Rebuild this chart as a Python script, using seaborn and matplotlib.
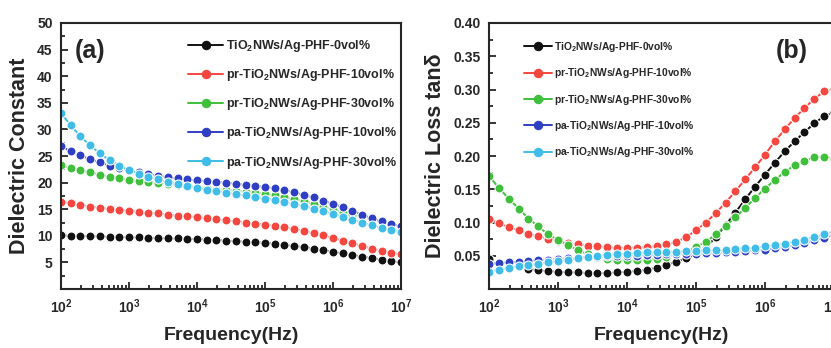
import numpy as np
import pandas as pd
import matplotlib
matplotlib.use("Agg")
import matplotlib.pyplot as plt
from matplotlib.lines import Line2D
from matplotlib.ticker import LogLocator, NullFormatter, MultipleLocator
import seaborn as sns

# frequency grid, 7 points per decade, 10^2 .. 10^7 Hz
freq = np.logspace(2, 7, 36)

labels = [
    r"TiO$_\mathbf{2}$NWs/Ag-PHF-0vol%",
    r"pr-TiO$_\mathbf{2}$NWs/Ag-PHF-10vol%",
    r"pr-TiO$_\mathbf{2}$NWs/Ag-PHF-30vol%",
    r"pa-TiO$_\mathbf{2}$NWs/Ag-PHF-10vol%",
    r"pa-TiO$_\mathbf{2}$NWs/Ag-PHF-30vol%",
]
colors = ["#111111", "#f5473f", "#3fbf3a", "#2f3fc4", "#3fbde8"]

# (a) dielectric constant
eps_0 = [10.1, 10.0, 10.0, 9.9, 9.9, 9.8, 9.8, 9.7, 9.7, 9.6, 9.6, 9.5, 9.5, 9.4,
         9.4, 9.3, 9.2, 9.1, 9.0, 8.9, 8.8, 8.7, 8.5, 8.3, 8.1, 7.9, 7.6, 7.3,
         7.0, 6.7, 6.4, 6.1, 5.8, 5.5, 5.2, 5.0]
eps_pr10 = [16.4, 16.1, 15.8, 15.5, 15.3, 15.1, 14.9, 14.7, 14.5, 14.3, 14.2, 14.0, 13.8, 13.7,
            13.5, 13.3, 13.1, 12.9, 12.7, 12.5, 12.3, 12.1, 11.9, 11.6, 11.3, 10.9, 10.5, 10.1,
            9.6, 9.1, 8.6, 8.1, 7.6, 7.2, 6.8, 6.5]
eps_pr30 = [23.3, 22.8, 22.3, 21.9, 21.5, 21.1, 20.8, 20.5, 20.3, 20.1, 19.9, 19.7, 19.5, 19.3,
            19.2, 19.0, 18.8, 18.6, 18.5, 18.3, 18.1, 17.9, 17.6, 17.3, 16.9, 16.5, 16.0, 15.5,
            15.0, 14.5, 14.0, 13.5, 13.0, 12.5, 12.1, 11.7]
eps_pa10 = [26.8, 25.9, 25.1, 24.4, 23.8, 23.2, 22.7, 22.3, 21.9, 21.6, 21.3, 21.0, 20.8, 20.6,
            20.4, 20.3, 20.1, 20.0, 19.8, 19.6, 19.4, 19.2, 18.9, 18.6, 18.2, 17.7, 17.2, 16.6,
            16.0, 15.4, 14.7, 14.0, 13.3, 12.7, 12.2, 11.8]
eps_pa30 = [33.0, 30.8, 28.7, 27.0, 25.5, 24.2, 23.2, 22.4, 21.7, 21.1, 20.6, 20.1, 19.7, 19.3,
            19.0, 18.7, 18.4, 18.1, 17.8, 17.6, 17.3, 17.0, 16.7, 16.4, 16.0, 15.6, 15.1, 14.6,
            14.1, 13.6, 13.0, 12.5, 12.0, 11.5, 11.1, 10.8]

# (b) dielectric loss tan delta (nan = point not shown)
tan_0 = [0.045, np.nan, np.nan, np.nan, 0.030, 0.028, 0.027, 0.026, 0.025, 0.025, 0.024, 0.024, 0.024, 0.025,
         0.026, 0.027, 0.029, 0.032, 0.036, 0.041, 0.046, 0.052, 0.062, 0.078, 0.096, 0.115, 0.135, 0.154,
         0.172, 0.190, 0.207, 0.222, 0.236, 0.249, 0.260, 0.266]
tan_pr10 = [0.106, 0.099, 0.093, 0.088, 0.083, 0.079, 0.075, 0.072, 0.069, 0.067, 0.065, 0.064, 0.063, 0.062,
            0.062, 0.062, 0.063, 0.064, 0.067, 0.071, 0.078, 0.088, 0.100, 0.114, 0.130, 0.147, 0.165, 0.183,
            0.202, 0.222, 0.240, 0.257, 0.272, 0.286, 0.297, 0.301]
tan_pr30 = [0.170, 0.152, 0.136, 0.121, 0.106, 0.094, 0.082, 0.074, 0.066, 0.059, 0.052, 0.048, 0.045, 0.044,
            0.043, 0.043, 0.044, 0.045, 0.048, 0.052, 0.057, 0.063, 0.071, 0.082, 0.095, 0.108, 0.122, 0.137,
            0.151, 0.164, 0.176, 0.186, 0.193, 0.198, 0.199, 0.196]
tan_pa10 = [0.038, 0.039, 0.040, 0.041, 0.042, 0.043, 0.044, 0.045, 0.046, 0.047, 0.048, 0.048, 0.049, 0.049,
            0.050, 0.050, 0.051, 0.051, 0.052, 0.052, 0.053, 0.053, 0.054, 0.054, 0.055, 0.056, 0.057, 0.058,
            0.059, 0.061, 0.063, 0.066, 0.069, 0.073, 0.077, 0.081]
tan_pa30 = [0.026, 0.029, 0.032, 0.034, 0.036, 0.038, 0.040, 0.042, 0.044, 0.046, 0.048, 0.050, 0.051, 0.052,
            0.053, 0.054, 0.055, 0.055, 0.056, 0.056, 0.057, 0.057, 0.058, 0.058, 0.059, 0.060, 0.061, 0.062,
            0.064, 0.066, 0.068, 0.071, 0.074, 0.078, 0.082, 0.086]

sns.set_style("ticks")
plt.rcParams["font.family"] = ["Liberation Sans", "DejaVu Sans"]
plt.rcParams["font.weight"] = "bold"
plt.rcParams["axes.labelweight"] = "bold"
plt.rcParams["mathtext.fontset"] = "custom"
plt.rcParams["mathtext.bf"] = "Liberation Sans:bold"
plt.rcParams["mathtext.rm"] = "Liberation Sans:bold"
plt.rcParams["mathtext.default"] = "bf"


def tidy(series):
    rows = []
    for name, vals in zip(labels, series):
        seg = 0
        for f, v in zip(freq, vals):
            if np.isnan(v):
                seg += 1
                continue
            rows.append({"freq": f, "value": v, "sample": name, "seg": seg})
    return pd.DataFrame(rows)


def draw(ax, series):
    df = tidy(series)
    sns.lineplot(data=df, x="freq", y="value", hue="sample", units="seg", estimator=None,
                 palette=dict(zip(labels, colors)), marker="o", markersize=6.5,
                 markeredgewidth=0.8, linewidth=1.4, legend=False, ax=ax)
    ax.set_xscale("log")
    ax.set_xlim(1e2, 1e7)
    ax.set_xticks([1e2, 1e3, 1e4, 1e5, 1e6, 1e7])
    ax.set_xticklabels([r"$\mathbf{10^{%d}}$" % k for k in range(2, 8)])
    ax.xaxis.set_minor_locator(LogLocator(base=10, subs=np.arange(2, 10)))
    ax.xaxis.set_minor_formatter(NullFormatter())
    ax.tick_params(axis="both", which="both", direction="in", labelsize=10, width=1.3)
    ax.tick_params(axis="both", which="major", length=5, pad=6)
    ax.tick_params(axis="both", which="minor", length=3)
    for s in ax.spines.values():
        s.set_linewidth(1.5)
        s.set_visible(True)
    ax.set_xlabel("Frequency(Hz)", fontsize=14, labelpad=8)


def add_legend(ax, fs, anchor, spacing, hl):
    handles = [Line2D([], [], color=c, marker="o", markersize=6, markeredgewidth=0.8, linewidth=1.4)
               for c in colors]
    leg = ax.legend(handles, labels, loc="upper left", bbox_to_anchor=anchor, frameon=False,
                    fontsize=fs, handlelength=hl, handletextpad=0.2, labelspacing=spacing,
                    borderaxespad=0)
    for t in leg.get_texts():
        t.set_fontweight("bold")


fig = plt.figure(figsize=(8.31, 3.48), dpi=100)
ax1 = fig.add_axes([61 / 831, 59 / 348, 340 / 831, 266 / 348])
ax2 = fig.add_axes([489 / 831, 59 / 348, 345 / 831, 266 / 348])

draw(ax1, [eps_0, eps_pr10, eps_pr30, eps_pa10, eps_pa30])
ax1.set_ylim(0, 50)
ax1.set_yticks(np.arange(5, 51, 5))
ax1.yaxis.set_minor_locator(MultipleLocator(2.5))
ax1.set_ylabel("Dielectric Constant", fontsize=15.5, labelpad=5)
ax1.text(0.04, 0.94, "(a)", transform=ax1.transAxes, fontsize=18, fontweight="bold", va="top")
add_legend(ax1, 9.0, (0.36, 0.962), 1.05, 2.8)

draw(ax2, [tan_0, tan_pr10, tan_pr30, tan_pa10, tan_pa30])
ax2.set_ylim(0, 0.40)
ax2.set_yticks(np.arange(0.05, 0.401, 0.05))
ax2.set_yticklabels(["%.2f" % v for v in np.arange(0.05, 0.401, 0.05)])
ax2.yaxis.set_minor_locator(MultipleLocator(0.025))
ax2.set_ylabel(r"Dielectric Loss tanδ", fontsize=15.5, labelpad=5)
ax2.text(0.83, 0.94, "(b)", transform=ax2.transAxes, fontsize=18, fontweight="bold", va="top")
add_legend(ax2, 7.4, (0.09, 0.952), 1.2, 2.7)

fig.savefig("out.png", dpi=100)
